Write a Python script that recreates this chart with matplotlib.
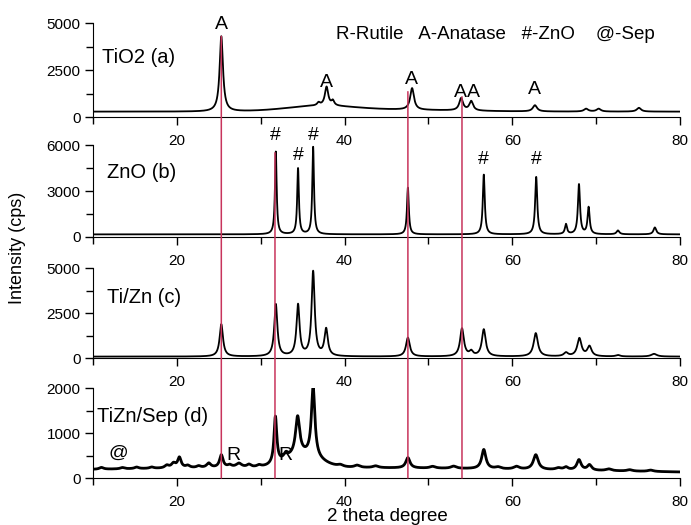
import numpy as np
import matplotlib
matplotlib.use("Agg")
import matplotlib.pyplot as plt
from matplotlib.patches import ConnectionPatch
from matplotlib.ticker import MultipleLocator

plt.rcParams['font.family'] = ['Liberation Sans', 'DejaVu Sans']

# ---- data ----
# peaks: (2theta, height above background, half width)
tio2_peaks = [(25.3, 4000, 0.24), (36.9, 150, 0.2), (37.85, 1000, 0.24), (38.6, 250, 0.2),
              (48.05, 1150, 0.27), (53.9, 650, 0.27), (55.1, 500, 0.27), (62.7, 330, 0.3),
              (68.8, 150, 0.3), (70.3, 150, 0.3), (75.1, 200, 0.3)]
zno_peaks = [(31.8, 5400, 0.12), (34.45, 4300, 0.12), (36.25, 5700, 0.12), (47.55, 3050, 0.13),
             (56.6, 3900, 0.14), (62.85, 3750, 0.15), (66.4, 650, 0.15), (67.95, 3250, 0.15),
             (69.1, 1750, 0.15), (72.6, 250, 0.2), (77.0, 450, 0.2)]
tizn_peaks = [(25.3, 1800, 0.24), (31.8, 2900, 0.22), (34.45, 2850, 0.22), (36.25, 4700, 0.22),
              (37.8, 1500, 0.24), (47.55, 1050, 0.27), (54.0, 1550, 0.27), (55.1, 250, 0.25),
              (56.6, 1500, 0.27), (62.8, 1300, 0.3), (66.4, 200, 0.3), (68.0, 1000, 0.3),
              (69.2, 550, 0.3), (72.6, 80, 0.3), (76.9, 150, 0.4)]
tiznsep_peaks = [(19.6, 100, 0.3), (20.3, 230, 0.25), (23.8, 100, 0.3), (25.3, 280, 0.25),
                 (27.4, 90, 0.4), (31.75, 1050, 0.2), (33.0, 120, 0.3), (34.4, 850, 0.3),
                 (36.25, 1550, 0.25), (47.55, 230, 0.3), (56.6, 430, 0.3), (62.8, 330, 0.35),
                 (67.95, 230, 0.3), (69.2, 120, 0.3),
                 # small wiggles of the noisy pattern
                 (11.0, 40, 0.3), (13.5, 30, 0.3), (15.2, 35, 0.3), (17.0, 30, 0.3),
                 (18.8, 60, 0.3), (21.3, 50, 0.3), (22.6, 40, 0.3), (26.3, 50, 0.3),
                 (28.6, 60, 0.3), (29.8, 40, 0.3), (39.5, 40, 0.4), (41.5, 50, 0.4),
                 (43.7, 40, 0.4), (50.5, 40, 0.4), (53.0, 50, 0.4), (58.3, 40, 0.4),
                 (60.5, 60, 0.4), (65.5, 40, 0.4), (66.4, 60, 0.3), (71.5, 40, 0.4),
                 (74.0, 30, 0.4), (76.5, 30, 0.4)]

# background: constant level and broad humps (center, height, sigma)
backgrounds = [(290, [(37, 250, 4), (45, 100, 8)]),
               (170, []),
               (80, []),
               (60, [(35, 170, 35), (35, 280, 2)])]

all_peaks = [tio2_peaks, zno_peaks, tizn_peaks, tiznsep_peaks]
panel_names = ['TiO2 (a)', 'ZnO (b)', 'Ti/Zn (c)', 'TiZn/Sep (d)']
panel_name_pos = [(0.015, 0.63), (0.024, 0.70), (0.024, 0.68), (0.007, 0.68)]
y_max = [5000, 6000, 5000, 2000]
y_major = [2500, 3000, 2500, 1000]
line_widths = [1.3, 1.3, 1.3, 2.0]

# phase marks: (panel, 2theta, intensity, text)
marks = [(0, 25.3, 4950, 'A'), (0, 37.8, 1850, 'A'), (0, 48.0, 2000, 'A'),
         (0, 53.8, 1300, 'A'), (0, 55.35, 1300, 'A'), (0, 62.7, 1450, 'A'),
         (1, 31.8, 6650, '#'), (1, 34.45, 5350, '#'), (1, 36.25, 6650, '#'),
         (1, 56.6, 5050, '#'), (1, 62.85, 5050, '#'),
         (3, 13.0, 550, '@'), (3, 26.7, 510, 'R'), (3, 32.9, 510, 'R')]

# red reference lines: (2theta, panel where it starts, start intensity)
ref_lines = [(25.3, 0, 4300), (31.7, 1, 5500), (47.55, 0, 1350), (54.0, 0, 1080)]

two_theta = np.linspace(10, 80, 7001)


def pattern(peaks, background):
    base, humps = background
    y = np.full_like(two_theta, float(base))
    for c, h, s in humps:
        y += h * np.exp(-0.5 * ((two_theta - c) / s) ** 2)
    for c, h, w in peaks:
        y += h / (1 + ((two_theta - c) / w) ** 2)
    return y


fig = plt.figure(figsize=(6.91, 5.25), dpi=100)
left, width = 0.1346, 0.8495
boxes = [(0.777, 0.179), (0.5486, 0.175), (0.318, 0.171), (0.0895, 0.171)]
axes = []
for i, (b, h) in enumerate(boxes):
    ax = fig.add_axes([left, b, width, h])
    ax.plot(two_theta, pattern(all_peaks[i], backgrounds[i]), color='black', lw=line_widths[i])
    ax.set_xlim(10, 80)
    ax.set_ylim(0, y_max[i])
    ax.spines['top'].set_visible(False)
    ax.spines['right'].set_visible(False)
    ax.xaxis.set_major_locator(MultipleLocator(20))
    ax.xaxis.set_minor_locator(MultipleLocator(10))
    ax.yaxis.set_major_locator(MultipleLocator(y_major[i]))
    ax.yaxis.set_minor_locator(MultipleLocator(y_major[i] / 2))
    ax.tick_params(axis='both', which='major', length=6, width=1, labelsize=11)
    ax.tick_params(axis='both', which='minor', length=5, width=1)
    ax.tick_params(axis='x', pad=6)
    ax.tick_params(axis='y', pad=3)
    ax.patch.set_alpha(0)
    ax.text(panel_name_pos[i][0], panel_name_pos[i][1], panel_names[i],
            transform=ax.transAxes, fontsize=14.5, va='center', ha='left')
    axes.append(ax)

for p, x, y, t in marks:
    axes[p].text(x, y, t, fontsize=14, ha='center', va='center', clip_on=False)

axes[0].text(39.0, 4400, 'R-Rutile   A-Anatase   #-ZnO    @-Sep', fontsize=13.5,
             ha='left', va='center')

for x, p, y0 in ref_lines:
    con = ConnectionPatch(xyA=(x, y0), coordsA=axes[p].transData,
                          xyB=(x, 0), coordsB=axes[3].transData,
                          color='#c8345c', lw=1.1, zorder=5)
    fig.add_artist(con)

fig.text(0.026, 0.528, 'Intensity (cps)', rotation=90, fontsize=13,
         ha='center', va='center')
fig.text(0.56, 0.016, '2 theta degree', fontsize=13.5, ha='center', va='center')

fig.savefig('out.png', dpi=100)
